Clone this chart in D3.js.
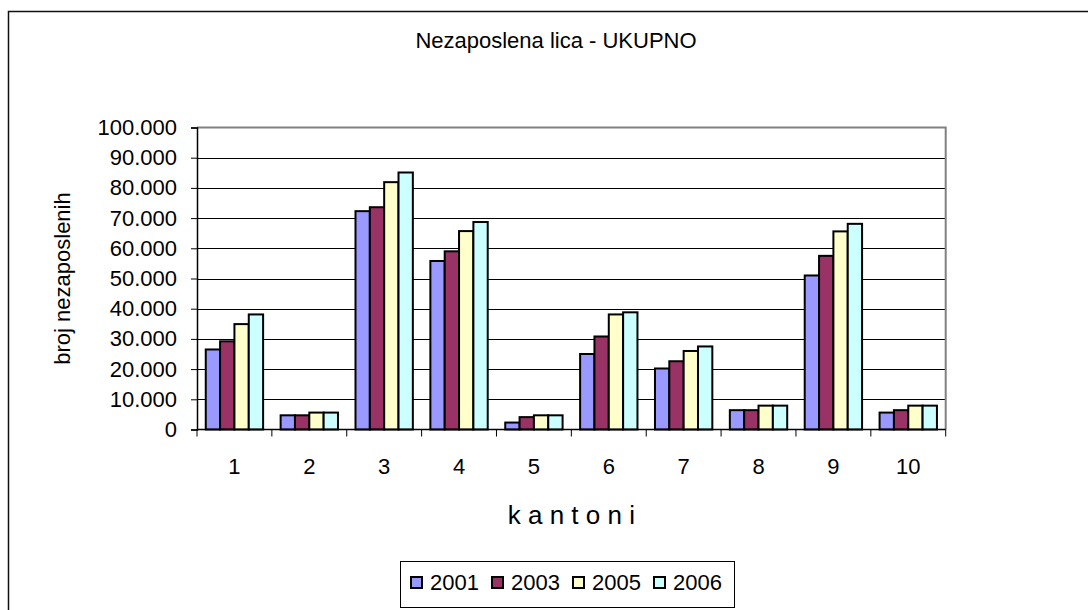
<!DOCTYPE html>
<html><head><meta charset="utf-8">
<script src="https://cdn.jsdelivr.net/npm/d3@7/dist/d3.min.js"></script>
<style>html,body{margin:0;padding:0;background:#fff;}svg{display:block;font-family:"Liberation Sans",Arial,sans-serif;}</style>
</head><body>
<svg id="c" width="1088" height="610"></svg>
<script>
const cantons = ["1","2","3","4","5","6","7","8","9","10"];
const years = ["2001","2003","2005","2006"];
const v2001 = [26500, 4700, 72300, 55800, 2300, 25000, 20200, 6400, 51000, 5600];
const v2003 = [29200, 4700, 73600, 59000, 4100, 30800, 22600, 6400, 57500, 6400];
const v2005 = [34900, 5600, 81900, 65700, 4700, 38100, 26000, 7900, 65600, 7900];
const v2006 = [38100, 5600, 85100, 68700, 4700, 38800, 27500, 7900, 68100, 7900];
const yTicks = [0,10000,20000,30000,40000,50000,60000,70000,80000,90000,100000];
const colors = ["#9999FF","#993366","#FFFFCC","#CCFFFF"];
const title = "Nezaposlena lica - UKUPNO";
const yTitle = "broj nezaposlenih";
const xTitle = "k a n t o n i";

const series = [v2001, v2003, v2005, v2006];
const svg = d3.select("#c");
const L = 197, R = 945.7, T = 127.5, B = 429.5;

// outer chart border
svg.append("rect").attr("x",8.5).attr("y",11.5).attr("width",1100).attr("height",620)
  .attr("fill","none").attr("stroke","#111").attr("stroke-width",1.5);

const x = d3.scaleBand().domain(cantons).range([L,R]).paddingInner(0).paddingOuter(0);
const bw = x.bandwidth();
const gap = (bw*0.234)/2;
const xi = d3.scaleBand().domain(years).range([gap, bw-gap]).padding(0);
const y = d3.scaleLinear().domain([0,100000]).range([B,T]);
const loc = d3.formatLocale({decimal:",",thousands:".",grouping:[3],currency:["",""]});
const fmt = loc.format(",d");

// gridlines
svg.append("g").selectAll("line").data(yTicks.filter(t=>t>0 && t<100000)).join("line")
  .attr("x1",L).attr("x2",R).attr("y1",d=>Math.round(y(d))+0.5).attr("y2",d=>Math.round(y(d))+0.5)
  .attr("stroke","#000").attr("stroke-width",1);

// plot border (top/right gray)
svg.append("path").attr("d",`M${L},${T}H${R}V${B}`).attr("fill","none").attr("stroke","#808080").attr("stroke-width",2);

// bars
const g = svg.append("g");
cantons.forEach((c,i)=>{
  series.forEach((s,j)=>{
    g.append("rect").attr("x",x(c)+xi(years[j])).attr("y",y(s[i]))
      .attr("width",xi.bandwidth()).attr("height",B-y(s[i]))
      .attr("fill",colors[j]).attr("stroke","#000").attr("stroke-width",2);
  });
});

// y axis
const ya = d3.axisLeft(y).tickValues(yTicks).tickFormat(fmt).tickSize(6).tickPadding(14);
const yg = svg.append("g").attr("transform",`translate(${L},0)`).call(ya);
yg.select(".domain").attr("stroke","#000").attr("stroke-width",1.5);
yg.selectAll(".tick line").attr("stroke","#000");
yg.selectAll("text").attr("font-size",22).attr("fill","#000").attr("font-family","Liberation Sans, Arial, sans-serif");

// x axis
const xa = d3.axisBottom(x).tickSize(0).tickPadding(0);
const xg = svg.append("g").attr("transform",`translate(0,${B})`).call(xa);
xg.select(".domain").attr("d",`M${L},0H${R}`).attr("stroke","#000").attr("stroke-width",1.5);
xg.selectAll("text").attr("font-size",22).attr("fill","#000").attr("dy",null).attr("y",44)
  .attr("font-family","Liberation Sans, Arial, sans-serif");
const bounds = cantons.map(c=>x(c)).concat([R]);
xg.append("g").selectAll("line").data(bounds).join("line")
  .attr("x1",d=>d).attr("x2",d=>d).attr("y1",0).attr("y2",7).attr("stroke","#000");

// titles
svg.append("text").attr("x",556).attr("y",48).attr("text-anchor","middle").attr("font-size",22).text(title);
svg.append("text").attr("transform",`translate(70,${(T+B)/2}) rotate(-90)`).attr("text-anchor","middle").attr("font-size",22).text(yTitle);
svg.append("text").attr("x",(L+R)/2).attr("y",524).attr("text-anchor","middle").attr("font-size",26).text(xTitle);

// legend
const lg = svg.append("g");
lg.append("rect").attr("x",400.5).attr("y",561.5).attr("width",334).attr("height",46)
  .attr("fill","#fff").attr("stroke","#000").attr("stroke-width",1);
years.forEach((yr,j)=>{
  const lx = 410 + j*81;
  lg.append("rect").attr("x",lx+1).attr("y",577).attr("width",11).attr("height",11)
    .attr("fill",colors[j]).attr("stroke","#000").attr("stroke-width",2);
  lg.append("text").attr("x",lx+20).attr("y",590).attr("font-size",22).text(yr);
});
</script>
</body></html>
